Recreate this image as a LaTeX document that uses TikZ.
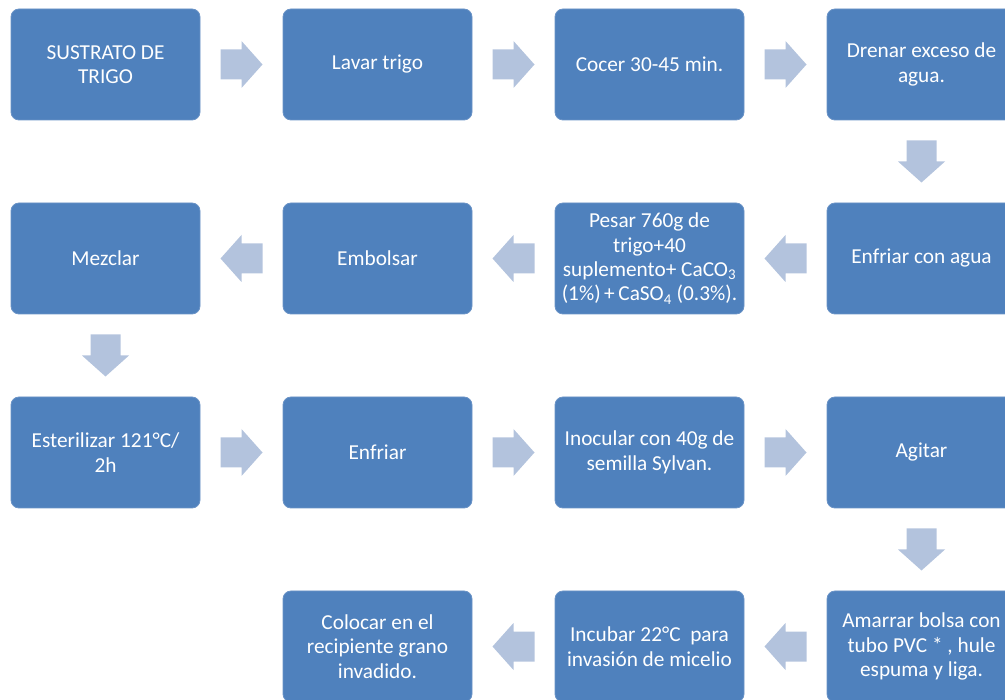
\documentclass[tikz,border=0pt]{standalone}
\usepackage{fontspec}
\setmainfont{Carlito}
\usetikzlibrary{calc}
\definecolor{boxblue}{HTML}{4F81BD}
\definecolor{boxedge}{HTML}{6A93C6}
\definecolor{arrowblue}{HTML}{B3C3DD}
\begin{document}
\begin{tikzpicture}[x=1pt,y=1pt,
  stepbox/.style={fill=boxblue, draw=boxedge, line width=0.8pt, rounded corners=8pt,
    minimum width=189pt, minimum height=111pt, inner sep=0pt, align=center,
    text=white, font=\fontsize{21.3}{24.4}\selectfont},
  blockarrow/.pic={\fill[arrowblue] (-21,-15) -- (0,-15) -- (0,-23.5) -- (21,0) -- (0,23.5) -- (0,15) -- (-21,15) -- cycle;}
]
\useasboundingbox (0,0) rectangle (1005,-700);
\clip (0,0) rectangle (1005,-700);
% row 1
\node[stepbox] (b1) at (105.5,-64.5) {SUSTRATO DE\\TRIGO};
\node[stepbox] (b2) at (377.5,-64.5) {Lavar trigo};
\node[stepbox] (b3) at (649.5,-64.5) {Cocer 30-45 min.};
\node[stepbox] (b4) at (921.5,-64.5) {Drenar exceso de\\agua.};
% row 2
\node[stepbox] (b5) at (921.5,-258.5) {Enfriar con agua};
\node[stepbox] (b6) at (649.5,-258.5) {Pesar 760g de\\trigo+40\\suplemento+ CaCO\textsubscript{3}\\(1\%)\,+\,CaSO\textsubscript{4} (0.3\%).};
\node[stepbox] (b7) at (377.5,-258.5) {Embolsar};
\node[stepbox] (b8) at (105.5,-258.5) {Mezclar};
% row 3
\node[stepbox] (b9) at (105.5,-452.5) {Esterilizar 121°C/\\2h};
\node[stepbox] (b10) at (377.5,-452.5) {Enfriar};
\node[stepbox] (b11) at (649.5,-452.5) {Inocular con 40g de\\semilla Sylvan.};
\node[stepbox] (b12) at (921.5,-452.5) {Agitar};
% row 4
\node[stepbox] (b13) at (921.5,-646.5) {Amarrar bolsa con\\tubo PVC * , hule\\espuma y liga.};
\node[stepbox] (b14) at (649.5,-646.5) {Incubar 22°C\ \ para\\invasión de micelio};
\node[stepbox] (b15) at (377.5,-646.5) {Colocar en el\\recipiente grano\\invadido.};
% arrows
\coordinate (a1) at ($(b1.east)!0.5!(b2.west)$);
\coordinate (a2) at ($(b2.east)!0.5!(b3.west)$);
\coordinate (a3) at ($(b3.east)!0.5!(b4.west)$);
\coordinate (a4) at ($(b4.south)!0.5!(b5.north)$);
\coordinate (a5) at ($(b5.west)!0.5!(b6.east)$);
\coordinate (a6) at ($(b6.west)!0.5!(b7.east)$);
\coordinate (a7) at ($(b7.west)!0.5!(b8.east)$);
\coordinate (a8) at ($(b8.south)!0.5!(b9.north)$);
\coordinate (a9) at ($(b9.east)!0.5!(b10.west)$);
\coordinate (a10) at ($(b10.east)!0.5!(b11.west)$);
\coordinate (a11) at ($(b11.east)!0.5!(b12.west)$);
\coordinate (a12) at ($(b12.south)!0.5!(b13.north)$);
\coordinate (a13) at ($(b13.west)!0.5!(b14.east)$);
\coordinate (a14) at ($(b14.west)!0.5!(b15.east)$);
\foreach \a in {a1,a2,a3,a9,a10,a11} {\pic at (\a) {blockarrow};}
\foreach \a in {a5,a6,a7,a13,a14} {\pic[rotate=180] at (\a) {blockarrow};}
\foreach \a in {a4,a8,a12} {\pic[rotate=-90] at (\a) {blockarrow};}
\end{tikzpicture}
\end{document}
